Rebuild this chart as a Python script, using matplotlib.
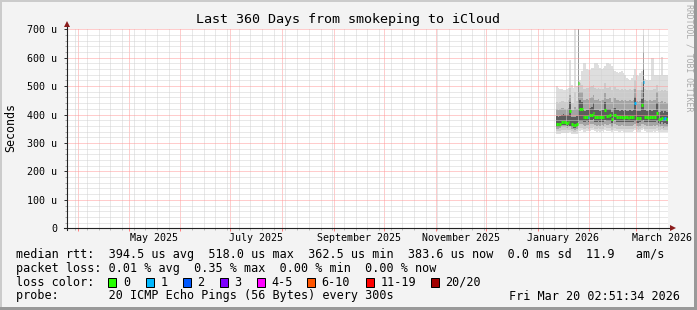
import numpy as np
import matplotlib.pyplot as plt
import matplotlib.dates as mdates
from matplotlib.patches import Rectangle
from datetime import datetime, timedelta


# --- Image size (pixels) ---
W, H = 697, 310

# --- Time window ---
t_start = datetime(2025, 3, 25, 2, 51, 34)
t_end = datetime(2026, 3, 20, 2, 51, 34)
first_day = datetime(2026, 1, 12)

# --- Daily values (microseconds) ---
median_us = [366, 365, 367, 372, 373, 372, 371, 372, 413, 365, 364, 363, 366, 510,
             420, 418, 392, 390, 393, 392, 398, 400, 407, 392,
             391, 393, 390, 392, 391, 415, 396, 395, 397, 385,
             400, 399, 392, 391, 390, 392, 389, 391, 390, 389,
             391, 390, 392, 439, 388, 387, 389, 434, 516, 392,
             390, 389, 391, 390, 392, 391, 405, 386, 385, 389,
             383, 387, 384]
lost_pings = [0, 0, 0, 0, 0, 0, 0, 0, 0, 0, 0, 0, 0, 0,
              0, 0, 0, 0, 0, 1, 0, 0, 0, 0,
              0, 0, 0, 0, 0, 0, 0, 0, 0, 0,
              0, 0, 0, 0, 0, 0, 0, 0, 0, 0,
              0, 0, 0, 1, 0, 0, 0, 0, 1, 0,
              0, 0, 0, 0, 0, 0, 0, 0, 0, 0,
              1, 1, 0]

# smoke: spread of the 20 pings, outer to inner
smoke_min = [333, 332, 333, 335, 336, 335, 334, 335, 338, 332, 331, 330, 333, 345,
             343, 344, 340, 340, 341, 341, 343, 344, 345, 341,
             340, 341, 340, 341, 340, 345, 342, 342, 343, 338,
             344, 343, 341, 340, 340, 341, 339, 340, 340, 339,
             340, 340, 341, 345, 339, 338, 339, 344, 350, 341,
             340, 339, 340, 340, 341, 340, 343, 338, 338, 339,
             337, 338, 337]
smoke_max = [500, 495, 490, 488, 485, 487, 490, 495, 590, 505, 495, 700, 500, 700,
             520, 553, 582, 580, 560, 555, 558, 565, 565, 580,
             582, 575, 565, 560, 565, 570, 580, 582, 578, 570,
             560, 553, 550, 545, 548, 553, 545, 540, 530, 525,
             520, 530, 540, 560, 540, 535, 545, 553, 700, 525,
             520, 518, 520, 600, 600, 540, 540, 540, 540, 603,
             540, 540, 540]
smoke_p10 = [342, 341, 342, 345, 346, 345, 344, 345, 347, 341, 340, 339, 342, 352,
             352, 353, 350, 349, 351, 350, 353, 354, 355, 350,
             349, 351, 349, 350, 349, 355, 352, 351, 352, 346,
             353, 352, 350, 349, 349, 350, 348, 349, 349, 348,
             349, 349, 350, 354, 348, 347, 348, 353, 356, 350,
             349, 348, 349, 349, 350, 349, 352, 346, 345, 348,
             344, 346, 345]
smoke_p90 = [445, 442, 444, 448, 447, 445, 444, 450, 495, 442, 440, 480, 446, 700,
             510, 505, 490, 488, 494, 492, 497, 500, 505, 492,
             490, 494, 488, 490, 489, 510, 495, 494, 496, 485,
             498, 497, 490, 488, 487, 490, 486, 488, 487, 485,
             488, 487, 490, 520, 486, 485, 487, 515, 680, 488,
             486, 485, 487, 486, 490, 488, 505, 484, 483, 487,
             482, 485, 482]
smoke_p25 = [350, 349, 351, 355, 356, 355, 354, 355, 356, 349, 348, 347, 350, 362,
             365, 365, 362, 360, 363, 362, 366, 367, 368, 362,
             361, 363, 360, 362, 361, 368, 364, 363, 365, 356,
             367, 366, 362, 361, 360, 362, 359, 361, 360, 359,
             361, 360, 362, 366, 358, 357, 359, 366, 368, 362,
             360, 359, 361, 360, 362, 361, 364, 356, 355, 359,
             354, 357, 355]
smoke_p75 = [418, 416, 418, 422, 423, 421, 420, 424, 470, 416, 415, 425, 418, 700,
             480, 478, 452, 450, 455, 452, 458, 462, 470, 452,
             450, 455, 448, 452, 450, 475, 456, 455, 458, 445,
             460, 458, 452, 450, 448, 452, 447, 450, 449, 447,
             450, 449, 452, 490, 446, 445, 448, 485, 620, 450,
             448, 447, 450, 448, 452, 450, 480, 444, 443, 447,
             441, 445, 442]
smoke_lo_in = [356, 355, 357, 362, 363, 362, 361, 362, 360, 355, 354, 353, 356, 372,
               378, 378, 375, 373, 376, 375, 380, 382, 385, 375,
               374, 376, 373, 375, 374, 382, 378, 377, 379, 369,
               382, 381, 375, 374, 373, 375, 372, 374, 373, 372,
               374, 373, 375, 378, 371, 370, 372, 378, 380, 375,
               373, 372, 374, 373, 375, 374, 376, 369, 368, 372,
               366, 370, 367]
smoke_hi_in = [394, 393, 395, 400, 401, 400, 399, 400, 445, 393, 392, 391, 394, 700,
               450, 445, 416, 414, 417, 416, 422, 425, 440, 416,
               415, 417, 414, 416, 415, 445, 420, 419, 421, 410,
               424, 423, 416, 415, 414, 416, 413, 415, 414, 413,
               415, 414, 416, 460, 412, 411, 413, 455, 560, 416,
               414, 413, 415, 414, 416, 415, 440, 410, 409, 413,
               407, 411, 408]

# --- Axis labels ---
y_ticks = [0, 100, 200, 300, 400, 500, 600, 700]
y_labels = ['0', '100 u', '200 u', '300 u', '400 u', '500 u', '600 u', '700 u']
x_label_pos = [datetime(2025, 5, 16, 12), datetime(2025, 7, 16, 12), datetime(2025, 9, 16),
               datetime(2025, 11, 16), datetime(2026, 1, 16, 12), datetime(2026, 3, 16, 12)]
x_labels = ['May 2025', 'July 2025', 'September 2025', 'November 2025',
            'January 2026', 'March 2026']

# --- Loss legend ---
loss_names = ['0', '1', '2', '3', '4-5', '6-10', '11-19', '20/20']
loss_colors = ['#26ff00', '#00b8ff', '#0059ff', '#7e00ff', '#ff00ff', '#ff5500', '#ff0000', '#a10000']

title = 'Last 360 Days from smokeping to iCloud'
line_rtt = 'median rtt:  394.5 us avg  518.0 us max  362.5 us min  383.6 us now  0.0 ms sd  11.9   am/s'
line_loss = 'packet loss: 0.01 % avg  0.35 % max  0.00 % min  0.00 % now'
line_probe = 'probe:       20 ICMP Echo Pings (56 Bytes) every 300s'
stamp = 'Fri Mar 20 02:51:34 2026'

MONO = 'DejaVu Sans Mono'

# --- Day edges for the step plot ---
n = len(median_us)
edges = [first_day + timedelta(days=i) for i in range(n)] + [t_end]


def closed(v):
    return np.append(np.array(v, dtype=float), v[-1])


fig = plt.figure(figsize=(W / 100, H / 100), dpi=100, facecolor='#f3f3f3')

top_px, bot_px, left_px, right_px = 29.2, 228.3, 67, 668
ax = fig.add_axes([left_px / W, 1 - bot_px / H, (right_px - left_px) / W, (bot_px - top_px) / H])
ax.set_facecolor('white')
ax.set_xlim(t_start, t_end)
ax.set_ylim(0, 700)
for s in ax.spines.values():
    s.set_visible(False)

# --- Smoke ---
bands = [(smoke_min, smoke_max, '#dedede'),
         (smoke_p10, smoke_p90, '#cbcbcb'),
         (smoke_p25, smoke_p75, '#a4a4a4'),
         (smoke_lo_in, smoke_hi_in, '#5c5c5c')]
for k, (lo, hi, col) in enumerate(bands):
    ax.fill_between(edges, closed(lo), closed(hi), step='post', color=col, lw=0, zorder=1 + k * 0.1)

# --- Median, coloured by loss ---
seg_colors = [loss_colors[k] for k in lost_pings]
ax.hlines(median_us, edges[:-1], edges[1:], colors=seg_colors, lw=2.2, zorder=3)

# --- Grid ---
ax.set_yticks(y_ticks)
ax.set_yticklabels(y_labels, fontfamily=MONO, fontsize=7.2)
ax.set_yticks(np.arange(0, 701, 20), minor=True)
ax.xaxis.set_major_locator(mdates.MonthLocator())
ax.xaxis.set_minor_locator(mdates.WeekdayLocator(byweekday=mdates.SU))
ax.set_xticklabels([])
ax.grid(which='minor', color='#d2d2d2', ls=(0, (1, 1)), lw=0.72)
ax.grid(which='major', color='#ff9a9a', ls=(0, (1, 1)), lw=0.72)
ax.set_axisbelow(False)
ax.tick_params(axis='y', which='major', length=2.5, width=0.72, color='#333333', pad=4.5)
ax.tick_params(axis='y', which='minor', length=1.5, width=0.72, color='#aaaaaa')
ax.tick_params(axis='x', which='major', length=2, width=0.72, color='#ff8080')
ax.tick_params(axis='x', which='minor', length=1.5, width=0.72, color='#bbbbbb')

for d, lab in zip(x_label_pos, x_labels):
    ax.text(d, -(237.7 - bot_px) / (bot_px - top_px), lab, transform=ax.get_xaxis_transform(),
            ha='center', va='center', fontfamily=MONO, fontsize=7.2)

# --- Overlay in pixel coordinates: frame, axes, arrows, legend ---
ov = fig.add_axes([0, 0, 1, 1])
ov.set_xlim(0, W)
ov.set_ylim(H, 0)
ov.axis('off')
ov.patch.set_visible(False)

ov.add_patch(Rectangle((0, 0), W, 2, color='#cbcbcb', lw=0))
ov.add_patch(Rectangle((0, 0), 2, H, color='#cbcbcb', lw=0))
ov.add_patch(Rectangle((0, H - 3), W, 3, color='#999999', lw=0))
ov.add_patch(Rectangle((W - 3, 0), 3, H, color='#999999', lw=0))

ov.plot([left_px, left_px], [bot_px + 2, 24], color='#222222', lw=0.8)
ov.plot([left_px - 3, 671], [bot_px, bot_px], color='#222222', lw=0.8)
ov.plot(left_px, 23.5, marker='^', ms=4.5, color='#8b1c1c', mew=0)
ov.plot(672.5, bot_px, marker='>', ms=4.5, color='#8b1c1c', mew=0)

ov.text(348, 19.3, title, ha='center', va='center', fontfamily=MONO, fontsize=9.6)
ov.text(11, 128, 'Seconds', ha='center', va='center', rotation=90, fontfamily=MONO, fontsize=8.4)
ov.text(689, 58, 'RRDTOOL / TOBI OETIKER', ha='center', va='center', rotation=270,
        fontfamily=MONO, fontsize=5.9, color='#aaaaaa')

ov.text(16, 254.3, line_rtt, ha='left', va='center', fontfamily=MONO, fontsize=8.5)
ov.text(16, 268.3, line_loss, ha='left', va='center', fontfamily=MONO, fontsize=8.5)
ov.text(16, 282.3, 'loss color:', ha='left', va='center', fontfamily=MONO, fontsize=8.5)
ov.text(16, 296, line_probe, ha='left', va='center', fontfamily=MONO, fontsize=8.5)
ov.text(680, 296, stamp, ha='right', va='center', fontfamily=MONO, fontsize=8.5)

box_x = [108.3, 145.7, 182.7, 219.7, 257, 307, 365.7, 431]
for bx, name, col in zip(box_x, loss_names, loss_colors):
    ov.add_patch(Rectangle((bx, 278), 8, 8.5, facecolor=col, edgecolor='black', lw=0.72))
    ov.text(bx + 14.5, 282.3, name, ha='left', va='center', fontfamily=MONO, fontsize=8.5)

fig.savefig('out.png', dpi=100, facecolor=fig.get_facecolor())
